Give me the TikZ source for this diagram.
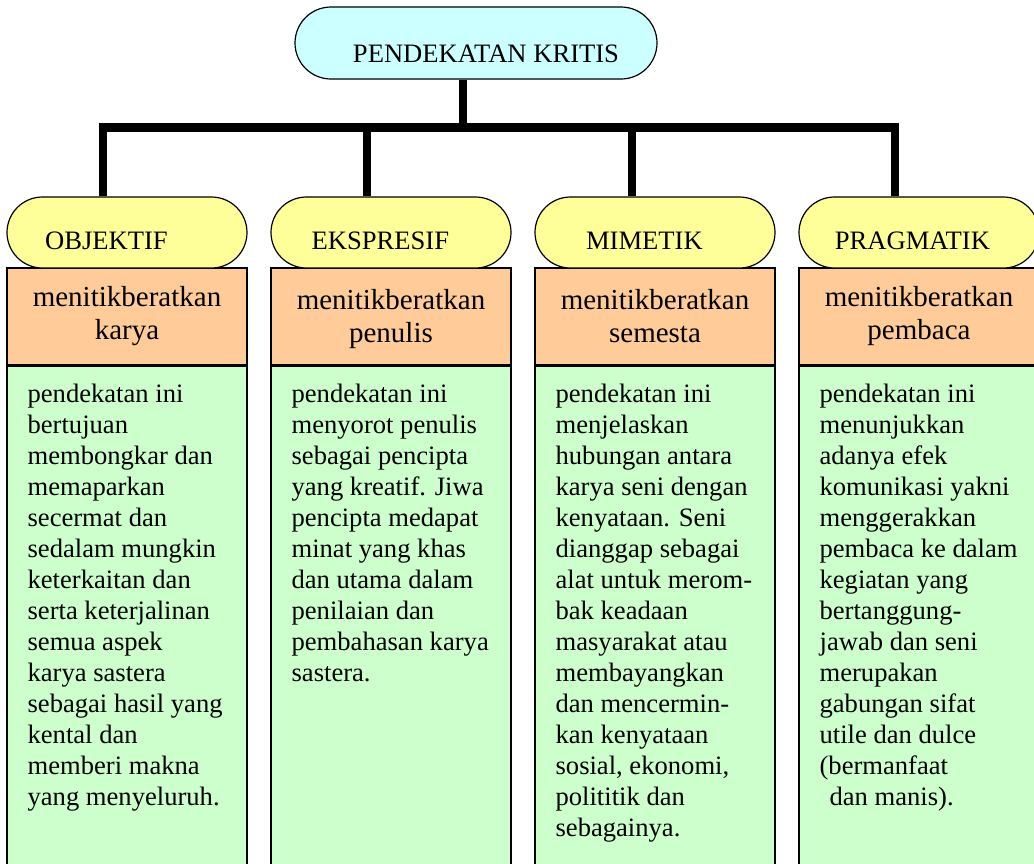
\documentclass[tikz,border=0pt]{standalone}
\usepackage{fontspec}
\setmainfont{Liberation Serif}
\usetikzlibrary{shapes.misc,calc}
\definecolor{cyanfill}{HTML}{CCFFFF}
\definecolor{yelfill}{HTML}{FFFF99}
\definecolor{orfill}{HTML}{FFCC99}
\definecolor{grfill}{HTML}{CCFFCC}
\newcommand\myhfont{\fontsize{26.6pt}{31pt}\selectfont}
\newcommand\myofont{\fontsize{29pt}{33pt}\selectfont}
\begin{document}
\begin{tikzpicture}[x=1pt,y=-1pt,
  pill/.style={rounded rectangle, draw, line width=1.2pt, inner sep=0pt,
    minimum width=240pt, minimum height=71pt, fill=yelfill},
  obox/.style={rectangle, draw, line width=1.2pt, inner sep=0pt,
    minimum width=240pt, minimum height=97pt, fill=orfill},
  gbox/.style={rectangle, draw, line width=1.2pt, inner sep=0pt,
    minimum width=240pt, minimum height=560pt, fill=grfill, anchor=north},
  htext/.style={anchor=base, inner sep=0pt, font=\myhfont},
  otext/.style={anchor=base, inner sep=0pt, align=center, font=\myofont},
  gtext/.style={anchor=base west, inner sep=0pt, align=left, font=\myhfont},
  conn/.style={line width=8.5pt, line join=miter, line cap=butt}]
\useasboundingbox (0,0) rectangle (1034,863);

% top node
\node[pill, fill=cyanfill, minimum width=362pt, minimum height=72pt] (top) at (476,43) {};
\node[htext] (toptxt) at ($(top.center)+(10,19)$) {PENDEKATAN KRITIS};

% columns
\foreach \i/\cx in {1/127, 2/391, 3/655, 4/919} {
  \node[obox] (o\i) at (\cx,316.5) {};
  \node[gbox] (g\i) at (o\i.south) {};
  \node[pill] (y\i) at (\cx,232.5) {};
}

% yellow labels
\node[htext] (yt1) at ($(y1.west)+(100,16.5)$) {OBJEKTIF};
\node[htext] (yt2) at ($(y2.west)+(110,16.5)$) {EKSPRESIF};
\node[htext] (yt3) at ($(y3.west)+(110,16.5)$) {MIMETIK};
\node[htext] (yt4) at ($(y4.west)+(114,16.5)$) {PRAGMATIK};

% orange labels (base = last line)
\node[otext] (ot1) at ($(o1.north)+(0,72)$) {menitikberatkan\\karya};
\node[otext] (ot2) at ($(o2.north)+(0,75)$) {menitikberatkan\\penulis};
\node[otext] (ot3) at ($(o3.north)+(0,75)$) {menitikberatkan\\semesta};
\node[otext] (ot4) at ($(o4.north)+(0,72)$) {menitikberatkan\\pembaca};

% green texts (base = last line)
\node[gtext] (gt1) at ($(g1.north west)+(21,440)$) {pendekatan ini\\bertujuan\\membongkar dan\\memaparkan\\secermat dan\\sedalam mungkin\\keterkaitan dan\\serta keterjalinan\\semua aspek\\karya sastera\\sebagai hasil yang\\kental dan\\memberi makna\\yang menyeluruh.};
\node[gtext] (gt2) at ($(g2.north west)+(21,316)$) {pendekatan ini\\menyorot penulis\\sebagai pencipta\\yang kreatif. Jiwa\\pencipta medapat\\minat yang khas\\dan utama dalam\\penilaian dan\\pembahasan karya\\sastera.};
\node[gtext] (gt3) at ($(g3.north west)+(21,471)$) {pendekatan ini\\menjelaskan\\hubungan antara\\karya seni dengan\\kenyataan. Seni\\dianggap sebagai\\alat untuk merom-\\bak keadaan\\masyarakat atau\\membayangkan\\dan mencermin-\\kan kenyataan\\sosial, ekonomi,\\polititik dan\\sebagainya.};
\node[gtext] (gt4) at ($(g4.north west)+(21,440)$) {pendekatan ini\\menunjukkan\\adanya efek\\komunikasi yakni\\menggerakkan\\pembaca ke dalam\\kegiatan yang\\bertanggung-\\jawab dan seni\\merupakan\\gabungan sifat\\utile dan dulce\\(bermanfaat\\\hspace*{10pt}dan manis).};

% connectors
\coordinate (bus) at (463,127.5);
\coordinate (s1) at ($(y1.north)+(-24,0)$);
\coordinate (s2) at ($(y2.north)+(-24,0)$);
\coordinate (s3) at ($(y3.north)+(-23,0)$);
\coordinate (s4) at ($(y4.north)+(-24,0)$);
\draw[conn] (top.south -| bus) -- (bus);
\draw[conn] (s1) |- (bus) -| (s4);
\draw[conn] (s2 |- bus) -- (s2);
\draw[conn] (s3 |- bus) -- (s3);
\end{tikzpicture}
\end{document}
